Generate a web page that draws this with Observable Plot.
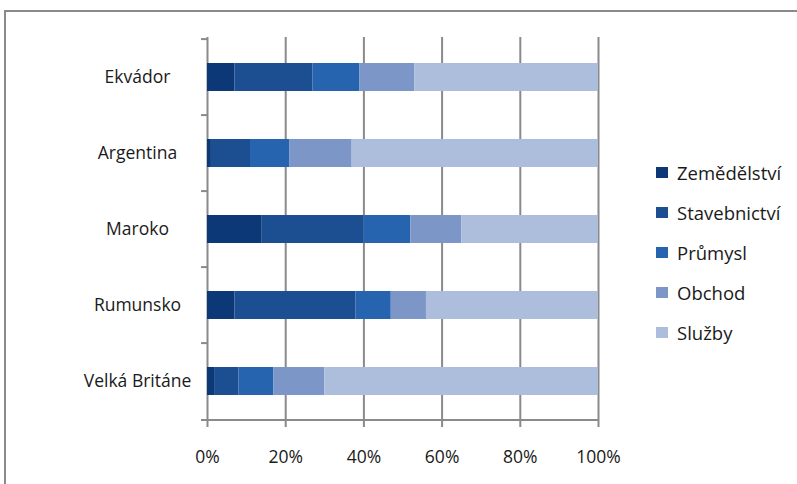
<!DOCTYPE html>
<html>
<head>
<meta charset="utf-8">
<script src="https://cdn.jsdelivr.net/npm/d3@7"></script>
<script src="https://cdn.jsdelivr.net/npm/@observablehq/plot@0.6"></script>
<style>
  html, body { margin: 0; padding: 0; background: #fff; }
  #wrap { position: relative; width: 797px; height: 484px; overflow: hidden; font-family: "Open Sans", sans-serif; }
  #border { position: absolute; left: 4px; top: 10px; right: -10px; bottom: -10px; border-top: 2px solid #8a8a8a; border-left: 2px solid #8a8a8a; }
  #legend { position: absolute; left: 656px; top: 152px; }
  .item { display: flex; align-items: center; height: 40px; font-size: 18.5px; color: #1a1a1a; font-weight: 500; }
  .sw { width: 12px; height: 11px; margin-right: 9px; }
</style>
</head>
<body>
<div id="wrap"><div id="border"></div><div id="chart"></div><div id="legend"></div></div>
<script>
const categories = ["Ekvádor", "Argentina", "Maroko", "Rumunsko", "Velká Británe"];
const sectors = ["Zemědělství", "Stavebnictví", "Průmysl", "Obchod", "Služby"];
const colors = ["#0d3877", "#1b4f92", "#2764b0", "#7b96c7", "#adbddc"];
const zemedelstvi = [7, 1, 14, 7, 2];
const stavebnictvi = [20, 10, 26, 31, 6];
const prumysl = [12, 10, 12, 9, 9];
const obchod = [14, 16, 13, 9, 13];
const sluzby = [47, 63, 35, 44, 70];
const xTicks = [0, 20, 40, 60, 80, 100];

const series = [zemedelstvi, stavebnictvi, prumysl, obchod, sluzby];
const rows = [];
categories.forEach((c, i) => sectors.forEach((s, j) => rows.push({country: c, sector: s, value: series[j][i]})));

const W = 797, H = 484, mT = 37, mB = 63, mL = 207, mR = 199;
const step = (H - mT - mB) / categories.length;
const grey = "#8a8a8a";

const chart = Plot.plot({
  width: W, height: H,
  marginTop: mT, marginBottom: mB, marginLeft: mL, marginRight: mR,
  style: {fontFamily: "Open Sans", fontSize: "17.5px", fontWeight: 500, color: "#1a1a1a", background: "transparent"},
  x: {domain: [0, 100], axis: null},
  y: {domain: categories, type: "band", paddingInner: 0.635, paddingOuter: 0.3175, axis: null},
  color: {domain: sectors, range: colors},
  marks: [
    Plot.ruleX(xTicks, {stroke: grey, strokeWidth: 2}),
    Plot.ruleY(categories, {x1: 0, x2: 0, insetLeft: -6, dy: -step / 2, stroke: grey, strokeWidth: 2}),
    Plot.ruleY([categories[categories.length - 1]], {x1: 0, x2: 100, insetLeft: -6, dy: step / 2, stroke: grey, strokeWidth: 2}),
    Plot.barX(rows, {x: "value", y: "country", fill: "sector"}),
    Plot.axisX({ticks: xTicks, tickSize: 6, tickPadding: 23, stroke: grey, strokeWidth: 2, fill: "#1a1a1a", fontSize: 17.5, tickFormat: d => d + "%", label: null}),
    Plot.axisY({tickSize: 0, tickPadding: 70, textAnchor: "middle", fill: "#1a1a1a", fontSize: 17.5, label: null})
  ]
});
document.getElementById("chart").appendChild(chart);

const legend = document.getElementById("legend");
sectors.forEach((s, j) => {
  const it = document.createElement("div");
  it.className = "item";
  const sw = document.createElement("div");
  sw.className = "sw";
  sw.style.background = colors[j];
  const t = document.createElement("span");
  t.textContent = s;
  it.appendChild(sw); it.appendChild(t);
  legend.appendChild(it);
});
</script>
</body>
</html>
